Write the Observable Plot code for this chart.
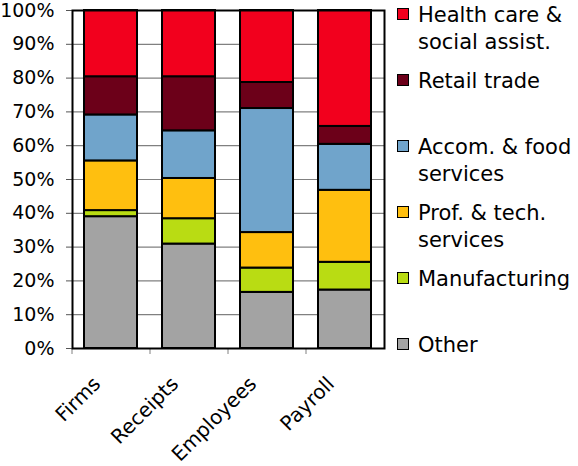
<!DOCTYPE html>
<html><head><meta charset="utf-8">
<script src="https://cdn.jsdelivr.net/npm/d3@7"></script>
<script src="https://cdn.jsdelivr.net/npm/@observablehq/plot@0.6"></script>
<style>
body{margin:0;background:#fff;}
#wrap{position:relative;width:578px;height:466px;font-family:"DejaVu Sans";}
#legend{position:absolute;left:397px;top:2px;}
.item{position:relative;height:66px;}
.sw{position:absolute;left:0;top:6px;width:10px;height:10px;border:1.5px solid #000;}
.lab{position:absolute;left:21px;top:0;font-size:21px;line-height:27px;white-space:pre;color:#000;}
</style></head><body><div id="wrap"><div id="legend"></div></div>
<script>
const categories = ["Firms", "Receipts", "Employees", "Payroll"];
const series = ["Other", "Manufacturing", "Prof. & tech. services", "Accom. & food services", "Retail trade", "Health care & social assist."];
const legendLabels = ["Other", "Manufacturing", "Prof. & tech.\nservices", "Accom. & food\nservices", "Retail trade", "Health care &\nsocial assist."];
const colors = ["#a3a3a3", "#b9dc13", "#ffbf0f", "#70a4cb", "#6c0019", "#f2001d"];
const other = [39.0, 30.9, 16.6, 17.3];
const manufacturing = [1.8, 7.5, 7.2, 8.2];
const prof = [14.7, 11.9, 10.5, 21.3];
const accom = [13.6, 14.1, 36.7, 13.6];
const retail = [11.3, 16.0, 7.7, 5.3];
const health = [19.6, 19.6, 21.3, 34.3];
const yTicks = [0, 10, 20, 30, 40, 50, 60, 70, 80, 90, 100];

const values = [other, manufacturing, prof, accom, retail, health];
const data = [];
series.forEach((s, i) => categories.forEach((c, j) => data.push({category: c, series: s, value: values[i][j]})));

const chart = Plot.plot({
  width: 578, height: 466,
  marginLeft: 72, marginRight: 194, marginTop: 10, marginBottom: 118,
  style: {fontFamily: "DejaVu Sans", fontSize: "19px", color: "#000", background: "#fff"},
  x: {domain: categories, paddingInner: 0.32, paddingOuter: 0.16, label: null},
  y: {domain: [0, 100], label: null},
  color: {domain: series, range: colors},
  marks: [
    Plot.gridY(yTicks, {stroke: "#808080", strokeOpacity: 1, strokeWidth: 1.2}),
    Plot.barY(data, {x: "category", y: "value", fill: "series", order: series, stroke: "#000", strokeWidth: 2, inset: 0}),
    Plot.axisY(yTicks, {tickSize: 6, tickPadding: 12, tickFormat: d => d + "%", fontSize: 19, stroke: "#555"}),
    Plot.axisX({tickSize: 6, tickFormat: () => "", dx: -39, stroke: "#808080"}),
    Plot.axisX({tickSize: 0, tickRotate: -45, tickPadding: 32, dx: -14, fontSize: 20}),
    Plot.frame({stroke: "#000", strokeWidth: 2})
  ]
});
document.getElementById("wrap").prepend(chart);

const legend = document.getElementById("legend");
for (let i = series.length - 1; i >= 0; i--) {
  const item = document.createElement("div");
  item.className = "item";
  const sw = document.createElement("div");
  sw.className = "sw";
  sw.style.background = colors[i];
  const lab = document.createElement("div");
  lab.className = "lab";
  lab.textContent = legendLabels[i];
  item.append(sw, lab);
  legend.append(item);
}
</script></body></html>
